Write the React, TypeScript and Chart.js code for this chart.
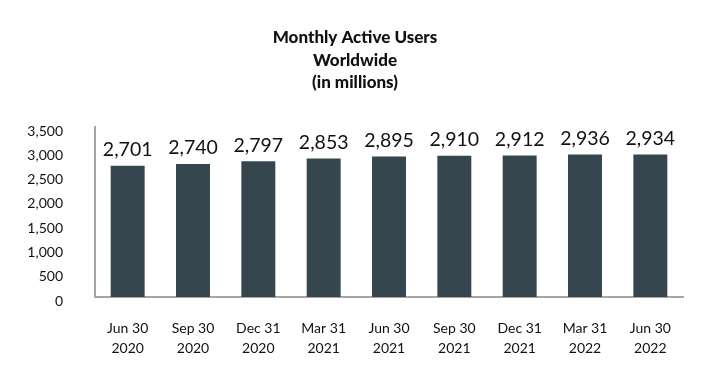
import React, { useEffect, useRef } from "react";
import { Chart, registerables } from "chart.js";

Chart.register(...registerables);

const categories: string[][] = [
  ["Jun 30", "2020"],
  ["Sep 30", "2020"],
  ["Dec 31", "2020"],
  ["Mar 31", "2021"],
  ["Jun 30", "2021"],
  ["Sep 30", "2021"],
  ["Dec 31", "2021"],
  ["Mar 31", "2022"],
  ["Jun 30", "2022"],
];
const users: number[] = [2701, 2740, 2797, 2853, 2895, 2910, 2912, 2936, 2934];
const titleLines: string[] = ["Monthly Active Users", "Worldwide", "(in millions)"];

const FONT = "Lato, 'Open Sans', sans-serif";
const fmt = (v: number) => v.toLocaleString("en-US");

const overlayPlugin = {
  id: "overlay",
  afterDatasetsDraw(chart: any) {
    const ctx = chart.ctx;
    ctx.save();
    // data labels
    const meta = chart.getDatasetMeta(0);
    ctx.fillStyle = "#111";
    ctx.font = `19.5px ${FONT}`;
    ctx.textAlign = "center";
    ctx.textBaseline = "bottom";
    meta.data.forEach((bar: any, i: number) => {
      ctx.fillText(fmt(users[i]), bar.x, bar.y - 6);
    });
    // title
    ctx.font = `900 17px ${FONT}`;
    ctx.textBaseline = "middle";
    const cx = 355;
    const ys = [38, 61, 83];
    titleLines.forEach((t, i) => ctx.fillText(t, cx, ys[i]));
    ctx.restore();
  },
};

export default function App() {
  const ref = useRef<HTMLCanvasElement | null>(null);
  useEffect(() => {
    document.body.style.margin = "0";
    const chart = new Chart(ref.current as HTMLCanvasElement, {
      type: "bar",
      data: {
        labels: categories,
        datasets: [
          {
            data: users,
            backgroundColor: "#36464f",
            barPercentage: 0.52,
            categoryPercentage: 1,
          },
        ],
      },
      options: {
        animation: false,
        responsive: false,
        maintainAspectRatio: false,
        layout: { padding: { top: 127, right: 29, left: 0, bottom: 0 } },
        plugins: { legend: { display: false }, tooltip: { enabled: false }, title: { display: false } },
        scales: {
          x: {
            grid: { display: false, drawTicks: false },
            border: { display: true, color: "#a6a6a6", width: 2 },
            ticks: {
              color: "#111",
              font: { family: FONT, size: 14, lineHeight: 1.45 },
              padding: 21,
              maxRotation: 0,
            },
            afterFit: (s: any) => {
              s.height = 83;
            },
          },
          y: {
            min: 0,
            max: 3500,
            grid: { display: false, drawTicks: false },
            border: { display: true, color: "#a6a6a6", width: 2 },
            ticks: {
              stepSize: 500,
              color: "#111",
              font: { family: FONT, size: 14 },
              padding: 32,
              labelOffset: 4,
              callback: (v: any) => fmt(Number(v)),
            },
            afterFit: (s: any) => {
              s.width = 95;
            },
          },
        },
      },
      plugins: [overlayPlugin],
    });
    return () => chart.destroy();
  }, []);
  return (
    <div style={{ position: "fixed", left: 0, top: 0, width: 712, height: 380, background: "#fff" }}>
      <canvas ref={ref} width={712} height={380} />
    </div>
  );
}
